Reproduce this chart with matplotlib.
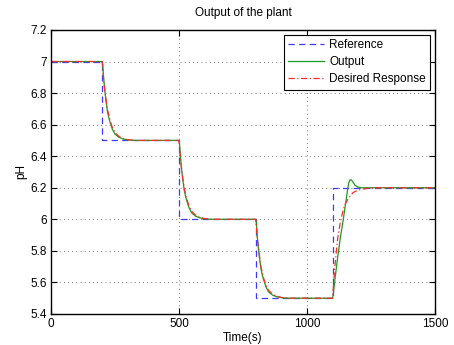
import matplotlib
matplotlib.use('Agg')
import matplotlib.pyplot as plt

plt.rcParams['font.family'] = ['Liberation Sans', 'DejaVu Sans']
plt.rcParams['font.size'] = 8.5

# reference (step) signal
ref_t = [0, 200, 200, 500, 500, 800, 800, 1100, 1100, 1500]
ref_y = [7, 7, 6.5, 6.5, 6, 6, 5.5, 5.5, 6.2, 6.2]

# plant output
out_t = [0, 200, 202, 206, 210, 215, 220, 225, 230, 240, 250, 265, 280, 300, 330,
         500, 502, 506, 510, 515, 520, 525, 530, 540, 550, 565, 580, 600, 630,
         800, 802, 806, 810, 815, 820, 825, 830, 840, 850, 865, 880, 900, 930,
         1100, 1103, 1110, 1120, 1130, 1140, 1150, 1158, 1163, 1168, 1173, 1180, 1188, 1198, 1210, 1500]
out_y = [7, 7, 6.98, 6.89, 6.82, 6.75, 6.69, 6.65, 6.62, 6.57, 6.54, 6.52, 6.51, 6.503, 6.5,
         6.5, 6.48, 6.39, 6.32, 6.25, 6.19, 6.15, 6.12, 6.07, 6.04, 6.02, 6.01, 6.003, 6.0,
         6.0, 5.98, 5.89, 5.82, 5.75, 5.69, 5.65, 5.62, 5.57, 5.54, 5.52, 5.51, 5.503, 5.5,
         5.5, 5.53, 5.63, 5.76, 5.88, 5.98, 6.09, 6.18, 6.23, 6.25, 6.25, 6.235, 6.215, 6.205, 6.2, 6.2]

# desired response
des_t = [0, 200, 205, 210, 220, 230, 240, 250, 265, 280, 300, 330,
         500, 505, 510, 520, 530, 540, 550, 565, 580, 600, 630,
         800, 805, 810, 820, 830, 840, 850, 865, 880, 900, 930,
         1100, 1105, 1110, 1120, 1130, 1140, 1150, 1165, 1180, 1200, 1230, 1260, 1500]
des_y = [7, 7, 6.90, 6.82, 6.70, 6.63, 6.58, 6.55, 6.526, 6.513, 6.505, 6.5,
         6.5, 6.40, 6.32, 6.20, 6.13, 6.08, 6.05, 6.026, 6.013, 6.005, 6.0,
         6.0, 5.90, 5.82, 5.70, 5.63, 5.58, 5.55, 5.526, 5.513, 5.505, 5.5,
         5.5, 5.62, 5.72, 5.88, 5.98, 6.05, 6.10, 6.14, 6.17, 6.185, 6.195, 6.2, 6.2]

xticks = [0, 500, 1000, 1500]
yticks = [5.4, 5.6, 5.8, 6.0, 6.2, 6.4, 6.6, 6.8, 7.0, 7.2]
ytick_labels = ['5.4', '5.6', '5.8', '6', '6.2', '6.4', '6.6', '6.8', '7', '7.2']

fig = plt.figure(figsize=(4.54, 3.45), dpi=100)
ax = fig.add_axes([0.1123, 0.0899, 0.8458, 0.8232])

ax.plot(ref_t, ref_y, color='#3a3aff', linestyle=(0, (5, 3.5)), lw=0.9, label='Reference')
ax.plot(out_t, out_y, color='#1f9a1f', linestyle='-', lw=0.9, label='Output')
ax.plot(des_t, des_y, color='#ff2a2a', linestyle=(0, (5, 2, 1, 2)), lw=0.9, label='Desired Response')

ax.set_xlim(0, 1500)
ax.set_ylim(5.4, 7.2)
ax.set_xticks(xticks)
ax.set_xticklabels([str(v) for v in xticks])
ax.set_yticks(yticks)
ax.set_yticklabels(ytick_labels)
ax.tick_params(direction='in', top=True, right=True, length=4, width=0.8, pad=3)
ax.grid(True, color='black', linestyle=(0, (1, 5)), lw=0.5)
for s in ax.spines.values():
    s.set_linewidth(1.0)

ax.set_title('Output of the plant', fontsize=8.5, pad=10)
ax.set_xlabel('Time(s)', labelpad=1)
ax.set_ylabel('pH', labelpad=2)

leg = ax.legend(loc='upper right', fancybox=False, edgecolor='black', framealpha=1,
                handlelength=3.0, borderaxespad=0.4, labelspacing=0.45, borderpad=0.35,
                handletextpad=0.5)
leg.get_frame().set_linewidth(0.8)

fig.savefig('out.png', dpi=100)
